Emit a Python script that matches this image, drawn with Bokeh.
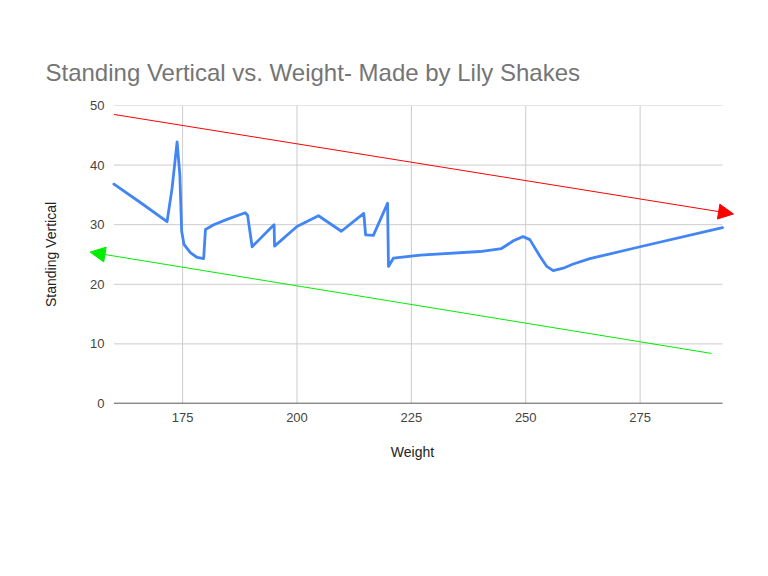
from bokeh.plotting import figure
from bokeh.models import Range1d, FixedTicker, Arrow, NormalHead, ColumnDataSource
from bokeh.embed import file_html
from bokeh.resources import INLINE

# ---- data ----
weight = [160, 166, 171.6, 172.7, 173.8, 174.4, 174.8, 175.3, 176.7, 178.2, 179.6, 180, 181.8,
          184.7, 188.7, 189.2, 190.2, 194.2, 195, 195.1, 200, 204.7, 209.7, 214.6, 215, 216.7,
          219.8, 220, 221.1, 227, 240, 244.7, 247.3, 249.4, 250.9, 253.1, 254.6, 256, 258.2,
          260.4, 264, 275, 293]
vertical = [36.8, 33.6, 30.5, 36.1, 43.9, 38.4, 28.9, 26.7, 25.3, 24.5, 24.3, 29.2, 30.0,
            30.9, 32.0, 31.6, 26.3, 29.4, 30.0, 26.4, 29.7, 31.5, 28.9, 31.9, 28.3, 28.2,
            33.6, 23.0, 24.4, 24.9, 25.5, 26.0, 27.3, 28.0, 27.5, 24.7, 23.0, 22.3, 22.7,
            23.4, 24.3, 26.3, 29.5]

red_trend_x = [160, 295.4]
red_trend_y = [48.5, 31.8]
green_trend_x = [154.8, 290.6]
green_trend_y = [25.4, 8.4]

x_ticks = [175, 200, 225, 250, 275]
y_ticks = [0, 10, 20, 30, 40, 50]

title_text = "Standing Vertical vs. Weight- Made by Lily Shakes"
x_label = "Weight"
y_label = "Standing Vertical"

FONT = "Liberation Sans"

x_min, x_max = min(weight), max(weight)
y_min, y_max = y_ticks[0], y_ticks[-1]

# frame is a bit wider than the data area so that the trend arrows fit
p = figure(width=760, height=570, output_backend="svg", toolbar_location=None,
           x_range=Range1d(154, 296.5), y_range=Range1d(y_min, y_max),
           min_border_left=86, min_border_right=22, min_border_top=105, min_border_bottom=167,
           title=title_text)
p.outline_line_color = None
p.background_fill_color = "white"
p.border_fill_color = "white"

p.title.text_font = FONT
p.title.text_font_size = "24px"
p.title.text_font_style = "normal"
p.title.text_color = "#757575"
p.title.align = "left"
p.title.offset = -41
p.title.standoff = 39

# axes
p.xaxis.ticker = FixedTicker(ticks=x_ticks)
p.yaxis.ticker = FixedTicker(ticks=y_ticks)
for ax in (p.xaxis, p.yaxis):
    ax.major_tick_line_color = None
    ax.minor_tick_line_color = None
    ax.major_tick_out = 0
    ax.major_tick_in = 0
    ax.minor_tick_out = 0
    ax.minor_tick_in = 0
    ax.axis_line_color = None
    ax.major_label_text_font = FONT
    ax.major_label_text_font_size = "13px"
    ax.major_label_text_color = "#444444"
    ax.axis_label_text_font = FONT
    ax.axis_label_text_font_size = "14px"
    ax.axis_label_text_font_style = "normal"
    ax.axis_label_text_color = "#222222"
p.xaxis.axis_label = x_label
p.yaxis.axis_label = y_label
p.xaxis.major_label_standoff = 9
p.xaxis.axis_label_standoff = 19
p.yaxis.major_label_standoff = -18
p.yaxis.axis_label_standoff = 28

p.xgrid.visible = False
p.ygrid.visible = False

# grid limited to the data area
p.segment(x0=x_ticks, x1=x_ticks, y0=[y_min] * len(x_ticks), y1=[y_max] * len(x_ticks),
          line_color="#cccccc", line_width=1)
p.segment(x0=[x_min] * len(y_ticks), x1=[x_max] * len(y_ticks), y0=y_ticks, y1=y_ticks,
          line_color="#cccccc", line_width=1)
# baseline
p.segment(x0=[x_min], x1=[x_max], y0=[y_min], y1=[y_min], line_color="#333333", line_width=1.5)

src = ColumnDataSource(dict(x=weight, y=vertical))
p.line("x", "y", source=src, line_color="#4285F4", line_width=2.8, line_join="round", line_cap="round")

p.add_layout(Arrow(end=NormalHead(size=15, fill_color="#ff0000", line_color="#ff0000", line_width=1),
                   x_start=red_trend_x[0], y_start=red_trend_y[0],
                   x_end=red_trend_x[1], y_end=red_trend_y[1],
                   line_color="#ff0000", line_width=1))
p.add_layout(Arrow(start=NormalHead(size=15, fill_color="#00ee00", line_color="#00ee00", line_width=1),
                   end=None,
                   x_start=green_trend_x[0], y_start=green_trend_y[0],
                   x_end=green_trend_x[1], y_end=green_trend_y[1],
                   line_color="#00ee00", line_width=1))

open("out.html", "w").write(file_html(p, INLINE))
